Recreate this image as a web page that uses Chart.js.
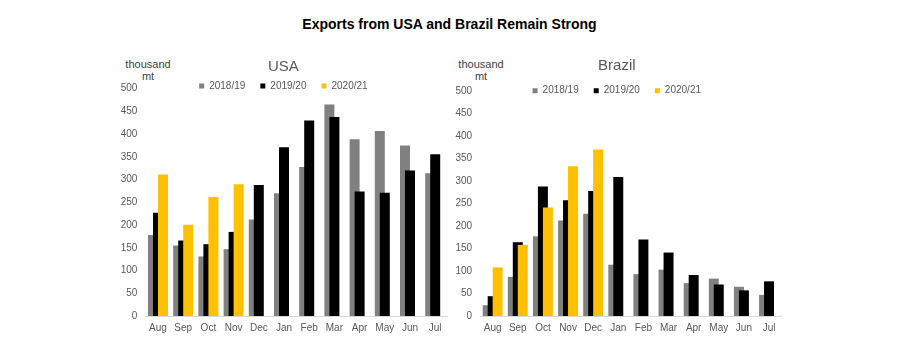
<!DOCTYPE html>
<html>
<head>
<meta charset="utf-8">
<script src="https://cdn.jsdelivr.net/npm/chart.js@4/dist/chart.umd.min.js"></script>
<style>
  body { margin: 0; background: #fff; }
  #page { position: relative; width: 899px; height: 347px; overflow: hidden; font-family: "Liberation Sans", Arial, sans-serif; }
  #mainTitle { position: absolute; left: 0; top: 16px; width: 899px; text-align: center; font-size: 14px; line-height: 16px; font-weight: bold; color: #000; }
  .unit { position: absolute; top: 58px; width: 60px; text-align: center; font-size: 11px; line-height: 12px; color: #404040; }
  canvas { position: absolute; top: 30px; }
</style>
</head>
<body>
<div id="page">
  <div id="mainTitle">Exports from USA and Brazil Remain Strong</div>
  <div class="unit" style="left:118px">thousand<br>mt</div>
  <div class="unit" style="left:451px">thousand<br>mt</div>
  <canvas id="usaChart" width="340" height="317" style="left:119px"></canvas>
  <canvas id="brazilChart" width="340" height="317" style="left:452px"></canvas>
</div>
<script>
// Exports, thousand mt
const months = ['Aug', 'Sep', 'Oct', 'Nov', 'Dec', 'Jan', 'Feb', 'Mar', 'Apr', 'May', 'Jun', 'Jul'];
const seasons = ['2018/19', '2019/20', '2020/21'];

const usa1819 = [178, 155, 131, 147, 212, 270, 328, 465, 389, 407, 375, 314];
const usa1920 = [227, 166, 158, 185, 288, 371, 430, 438, 274, 271, 320, 356];
const usa2021 = [311, 201, 262, 290, null, null, null, null, null, null, null, null];

const bra1819 = [24, 87, 177, 212, 227, 114, 93, 103, 73, 83, 65, 47];
const bra1920 = [44, 164, 288, 257, 278, 309, 170, 141, 91, 70, 57, 77];
const bra2021 = [108, 158, 241, 333, 370, null, null, null, null, null, null, null];

const yTicks = [0, 50, 100, 150, 200, 250, 300, 350, 400, 450, 500];

const seasonColors = ['#808080', '#000000', '#ffc000'];
const textGray = '#595959';
const fontFamily = '"Liberation Sans", Arial, sans-serif';

// draw later seasons over earlier ones (bars overlap like the Excel original)
const drawOrder = {
    id: 'drawOrder',
    beforeDatasetsDraw(chart) {
        chart.getSortedVisibleDatasetMetas().forEach(meta => meta.controller.draw());
        return false;
    }
};

// move title and legend down to where they sit in the original
const nudge = {
    id: 'nudge',
    afterLayout(chart, args, opts) {
        const t = chart.titleBlock;
        if (t && opts.titleY != null) {
            const d = opts.titleY - (t.top + t.height / 2);
            t.top += d; t.bottom += d;
        }
        const l = chart.legend;
        if (l && opts.legendY != null) {
            const d = opts.legendY - (l.top + l.options.labels.padding + 5);
            l.top += d; l.bottom += d;
        }
    }
};

function makeChart(id, title, series, opts) {
    const ctx = document.getElementById(id).getContext('2d');
    return new Chart(ctx, {
        type: 'bar',
        data: {
            labels: months,
            datasets: series.map((data, i) => ({
                label: seasons[i],
                data: data,
                backgroundColor: seasonColors[i],
                borderWidth: 0,
                categoryPercentage: 0.595,
                barPercentage: 2
            }))
        },
        options: {
            responsive: false,
            animation: false,
            layout: {
                padding: { top: opts.padTop, right: opts.padRight, left: 0, bottom: 0 }
            },
            plugins: {
                title: {
                    display: true,
                    text: title,
                    color: textGray,
                    padding: 0,
                    font: { family: fontFamily, size: 15, weight: 'normal' }
                },
                legend: {
                    position: 'top',
                    labels: {
                        color: textGray,
                        boxWidth: 5,
                        boxHeight: 5,
                        padding: 15,
                        font: { family: fontFamily, size: 10 }
                    }
                },
                tooltip: { enabled: false },
                nudge: { titleY: opts.titleY, legendY: opts.legendY }
            },
            scales: {
                x: {
                    grid: { display: false, drawTicks: false },
                    border: { display: true, color: '#d9d9d9', width: 1 },
                    ticks: {
                        color: textGray,
                        padding: 6,
                        maxRotation: 0,
                        font: { family: fontFamily, size: 10 }
                    },
                    afterFit(scale) { scale.height = 31; }
                },
                y: {
                    min: 0,
                    max: 500,
                    grid: { display: false, drawTicks: false },
                    border: { display: false },
                    ticks: {
                        color: textGray,
                        padding: 8,
                        font: { family: fontFamily, size: 10 },
                        callback: (v) => yTicks.includes(v) ? v : null,
                        stepSize: 50
                    },
                    afterFit(scale) { scale.width = opts.axisWidth; }
                }
            }
        },
        plugins: [drawOrder, nudge]
    });
}

const usaChart = makeChart('usaChart', 'USA', [usa1819, usa1920, usa2021],
    { padTop: 5.7, padRight: 11.2, axisWidth: 26.4, titleY: 36.5, legendY: 56 });
const brazilChart = makeChart('brazilChart', 'Brazil', [bra1819, bra1920, bra2021],
    { padTop: 8, padRight: 10.4, axisWidth: 28.1, titleY: 36.3, legendY: 60.7 });
</script>
</body>
</html>
